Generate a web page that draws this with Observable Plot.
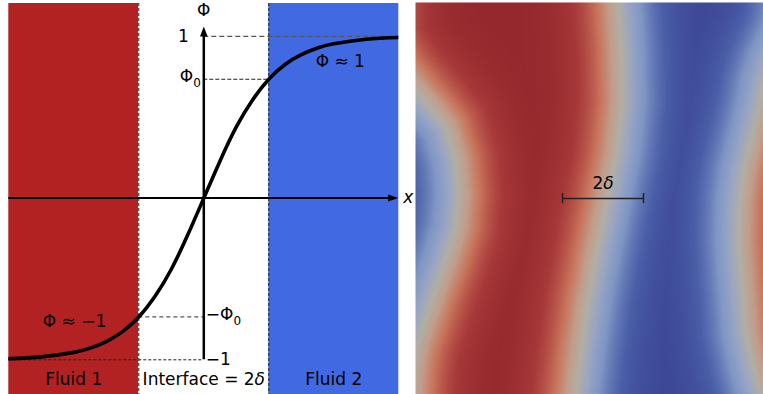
<!DOCTYPE html>
<html>
<head>
<meta charset="utf-8">
<script src="https://cdn.jsdelivr.net/npm/d3@7"></script>
<script src="https://cdn.jsdelivr.net/npm/@observablehq/plot@0.6"></script>
<style>
  body { margin: 0; background: #fff; }
  #fig { display: flex; width: 763px; height: 394px; }
  #fig svg { display: block; }
</style>
</head>
<body>
<div id="fig"></div>
<script>
// ---- Left panel: 1D order-parameter profile across the diffuse interface (x in units of δ)
const profileX   = [-3, -2.5, -2, -1.75, -1.5, -1.25, -1, -0.75, -0.5, -0.25, 0, 0.25, 0.5, 0.75, 1, 1.25, 1.5, 1.75, 2, 2.5, 3];
const profilePhi = [-0.993, -0.982, -0.954, -0.928, -0.887, -0.826, -0.735, -0.607, -0.44, -0.23, 0, 0.23, 0.44, 0.607, 0.735, 0.826, 0.887, 0.928, 0.954, 0.982, 0.993];
const fluidNames = ["Fluid 1", "Interface = 2δ", "Fluid 2"];
const fluidEdges = [-3, -1, 1, 3];
const phi0 = 0.735;

// ---- Right panel: Φ = 0 contours of the 2D field (field coordinates in px)
const blobX  = [378, 380, 400, 415, 432, 445, 455, 458, 455, 445, 433, 422, 416, 412, 410, 408];
const blobY  = [-30, 40, 72, 90, 110, 127, 160, 193, 227, 260, 293, 327, 345, 370, 400, 430];
const frontX = [617, 618, 621, 622, 617, 607, 597, 588, 581, 576, 572];
const frontY = [-20, 3, 50, 100, 150, 200, 250, 300, 350, 394, 420];
const rightX = [800, 785, 770, 763, 760, 752, 743, 739, 738, 740, 745, 752, 757, 763, 772];
const rightY = [-30, 30, 62, 83, 100, 133, 170, 200, 240, 270, 333, 365, 383, 395, 420];
const delta = 40.5;            // interface half-thickness
const scaleBarMid = 602.5;     // centre of the 2δ bar
const scaleBarY = 198;

// diverging palette, Φ = -1 (fluid 1) to Φ = +1 (fluid 2)
const phiStops   = [-1, -0.8, -0.5, -0.25, 0, 0.25, 0.5, 0.8, 1];
const colorStops = ["#93272b", "#a8393a", "#c8735a", "#c39c88", "#b2aea6", "#98a5c4", "#7f96c4", "#4a5ea8", "#3b4594"];

const profile = profileX.map((x, i) => ({x, phi: profilePhi[i]}));
const fluids = fluidNames.map((name, i) => ({name, x1: fluidEdges[i], x2: fluidEdges[i + 1]}));

const yLo = -1.2146, yHi = 1.2035;   // vertical extent of the left frame in Φ units
const xTip = 2.99, yTip = 1.061;     // axis arrow tips

function head(halfWidth) {
  return {
    draw(context, l) {
      context.moveTo(-halfWidth, 0);
      context.lineTo(0, -l);
      context.lineTo(halfWidth, 0);
      context.closePath();
    }
  };
}

const font = "DejaVu Sans";

const left = Plot.plot({
  width: 415, height: 394,
  marginLeft: 8.3, marginRight: 16.7, marginTop: 3, marginBottom: 0,
  x: {domain: [-3, 3], axis: null},
  y: {domain: [yLo, yHi], axis: null},
  color: {type: "ordinal", domain: fluidNames, range: ["#b22222", "#ffffff", "#4169e1"]},
  style: {fontFamily: font, fontSize: "17px", background: "white"},
  marks: [
    Plot.rect(fluids, {x1: "x1", x2: "x2", y1: () => yLo, y2: () => yHi, fill: "name"}),
    Plot.ruleX([-1, 1], {stroke: "#222", strokeWidth: 1, strokeDasharray: "3,2"}),
    // guide lines to the axis
    Plot.ruleY([1], {x1: 0, x2: 3, stroke: "#555", strokeWidth: 1.3, strokeDasharray: "5,3"}),
    Plot.ruleY([phi0], {x1: 0, x2: 1, stroke: "#222", strokeWidth: 1.1, strokeDasharray: "4,2"}),
    Plot.ruleY([-phi0], {x1: -1, x2: 0, stroke: "#555", strokeWidth: 1.2, strokeDasharray: "4,3"}),
    Plot.ruleY([-1], {x1: -3, x2: 0, stroke: "#222", strokeWidth: 1, strokeDasharray: "3,2"}),
    // axes
    Plot.ruleY([0], {x1: -3, x2: xTip - 0.1, stroke: "black", strokeWidth: 2}),
    Plot.vector([0], {x: xTip, y: 0, rotate: 90, length: 10, anchor: "end", shape: head(3.5), fill: "black", stroke: "none"}),
    Plot.ruleX([0], {y1: -1, y2: yTip - 0.04, stroke: "black", strokeWidth: 2.5}),
    Plot.vector([0], {x: 0, y: yTip, rotate: 0, length: 10, anchor: "end", shape: head(3.8), fill: "black", stroke: "none"}),
    // profile
    Plot.line(profile, {x: "x", y: "phi", curve: "natural", stroke: "black", strokeWidth: 3.6, clip: true}),
    // labels
    Plot.text(["Φ"], {x: 0, y: yTip, dy: -16, fontSize: 17}),
    Plot.text(["x"], {x: xTip, y: 0, dx: 5, dy: -1, textAnchor: "start", fontSize: 17, fontStyle: "italic"}),
    Plot.text(["1"], {x: 0, y: 1, dx: -15, textAnchor: "end", fontSize: 17}),
    Plot.text(["Φ₀"], {x: 0, y: phi0, dx: -3, dy: -3, textAnchor: "end", fontSize: 17}),
    Plot.text(["−Φ₀"], {x: 0, y: -phi0, dx: 2, dy: -2, textAnchor: "start", fontSize: 17}),
    Plot.text(["−1"], {x: 0, y: -1, dx: 2, textAnchor: "start", fontSize: 17}),
    Plot.text(["Φ ≈ 1"], {x: 2.1, y: 0.845, fontSize: 17}),
    Plot.text(["Φ ≈ −1"], {x: -1.99, y: -0.765, fontSize: 17}),
    Plot.text(fluids, {x: d => (d.x1 + d.x2) / 2, y: -1.122, text: "name", fontSize: 17})
  ]
});

// ---- 2D field from the contour positions: tanh of the distance to the nearest interface
function rowCross(xs, ys, y) {
  if (y < ys[0] || y > ys[ys.length - 1]) return null;
  for (let i = 1; i < ys.length; ++i) {
    if (y <= ys[i]) {
      const t = (y - ys[i - 1]) / (ys[i] - ys[i - 1]);
      return xs[i - 1] + t * (xs[i] - xs[i - 1]);
    }
  }
  return null;
}
function polyDist(px, py, xs, ys) {
  let m = Infinity;
  for (let i = 1; i < xs.length; ++i) {
    const ax = xs[i - 1], ay = ys[i - 1], bx = xs[i], by = ys[i];
    const vx = bx - ax, vy = by - ay;
    let t = ((px - ax) * vx + (py - ay) * vy) / (vx * vx + vy * vy);
    t = Math.max(0, Math.min(1, t));
    const dx = px - (ax + t * vx), dy = py - (ay + t * vy);
    m = Math.min(m, Math.hypot(dx, dy));
  }
  return m;
}
function phiAt(x, y) {
  const c1 = rowCross(blobX, blobY, y);
  const c2 = rowCross(frontX, frontY, y);
  const c3 = rowCross(rightX, rightY, y);
  const fluid2 = (c1 !== null && x < c1) || (x > c2 && (c3 === null || x < c3));
  const d = Math.min(polyDist(x, y, blobX, blobY), polyDist(x, y, frontX, frontY), polyDist(x, y, rightX, rightY));
  return (fluid2 ? 1 : -1) * Math.tanh(d / delta);
}

const right = Plot.plot({
  width: 348, height: 394,
  marginLeft: 0, marginRight: 0, marginTop: 2, marginBottom: 0,
  x: {domain: [415, 763], axis: null},
  y: {domain: [394, 2], axis: null},
  color: {type: "linear", domain: phiStops, range: colorStops, interpolate: "rgb"},
  style: {fontFamily: font, fontSize: "17px", background: "white"},
  marks: [
    Plot.raster({fill: phiAt, x1: 415, x2: 763, y1: 2, y2: 394, width: 348, height: 392}),
    Plot.ruleY([scaleBarY], {x1: scaleBarMid - delta, x2: scaleBarMid + delta, stroke: "#222", strokeWidth: 1.5}),
    Plot.ruleX([scaleBarMid - delta, scaleBarMid + delta], {y1: scaleBarY - 5, y2: scaleBarY + 5, stroke: "#222", strokeWidth: 1.5}),
    Plot.text(["2δ"], {x: scaleBarMid, y: scaleBarY, dy: -15, fontSize: 17})
  ]
});

// italic δ and a proper subscript 0 inside mixed labels
for (const svg of [left, right]) {
  d3.select(svg).selectAll("text").each(function () {
    const t = this.textContent;
    if (!/[δ₀]/.test(t) || this.querySelector("tspan")) return;
    const sel = d3.select(this);
    sel.text(null);
    for (const part of t.split(/([δ₀])/)) {
      if (!part) continue;
      if (part === "δ") sel.append("tspan").attr("font-style", "italic").text("δ");
      else if (part === "₀") sel.append("tspan").attr("font-size", "12px").attr("dy", "5").text("0");
      else sel.append("tspan").text(part);
    }
  });
}

const fig = document.getElementById("fig");
fig.append(left, right);
</script>
</body>
</html>
